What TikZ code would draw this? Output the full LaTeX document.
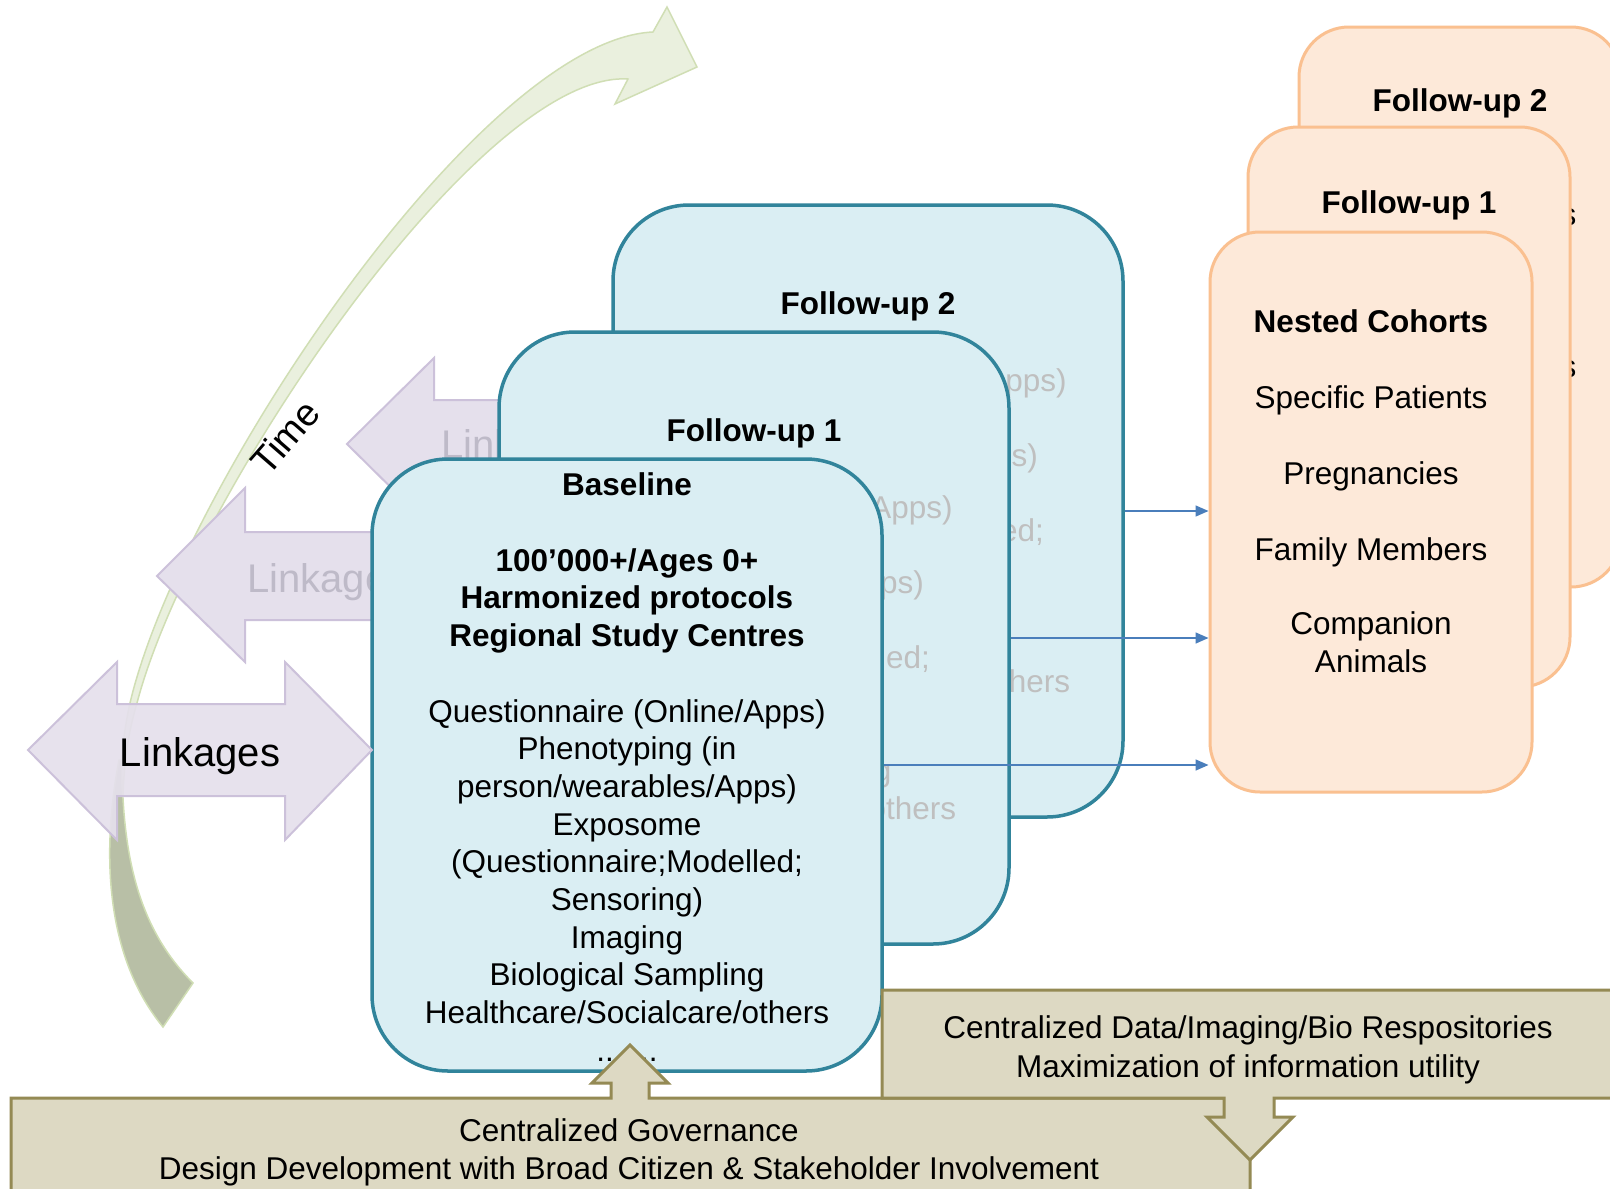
\documentclass[tikz,border=0pt]{standalone}
\usepackage{fontspec}
\setmainfont{Liberation Sans}
\usetikzlibrary{arrows.meta}
\definecolor{bluefill}{RGB}{218,238,243}
\definecolor{bluedraw}{RGB}{49,132,155}
\definecolor{orfill}{RGB}{253,233,217}
\definecolor{ordraw}{RGB}{250,192,144}
\definecolor{lavfill}{RGB}{229,224,236}
\definecolor{lavdraw}{RGB}{204,193,218}
\definecolor{tanfill}{RGB}{221,217,195}
\definecolor{tandraw}{RGB}{148,138,84}
\definecolor{arrblue}{RGB}{74,126,187}
\definecolor{timelight}{RGB}{234,240,222}
\definecolor{timeedge}{RGB}{208,222,180}
\definecolor{timedark}{RGB}{184,191,166}
\definecolor{ghost}{RGB}{191,191,191}
\definecolor{lavtext}{RGB}{190,186,200}
\begin{document}
\begin{tikzpicture}[x=1pt,y=-1pt,
  txt/.style={font=\fontsize{31.5}{37.7}\selectfont, inner sep=0pt, anchor=base},
  btxt/.style={font=\fontsize{31.5}{37.7}\selectfont\bfseries, inner sep=0pt, anchor=base},
  ghosttxt/.style={txt, text=ghost},
  linktxt/.style={font=\fontsize{40}{48}\selectfont, inner sep=0pt},
  bluebox/.style={draw=bluedraw, fill=bluefill, line width=3.5pt, rounded corners=76pt,
    minimum width=510pt, minimum height=612pt, inner sep=0pt},
  orbox/.style={draw=ordraw, fill=orfill, line width=3pt, rounded corners=50pt,
    minimum width=322pt, minimum height=560pt, inner sep=0pt},
  linkarrow/.style={fill=lavfill, draw=lavdraw, line width=2pt, line join=miter},
  tanshape/.style={fill=tanfill, draw=tandraw, line width=3pt, line join=miter},
  conn/.style={draw=arrblue, line width=1.5pt, -{Triangle[length=13pt,width=11pt]}}
]
\useasboundingbox (0,0) rectangle (1610,1189);
\clip (0,0) rectangle (1610,1189);
\fill[white] (0,0) rectangle (1610,1189);

% ---------- time arrow ----------
\filldraw[fill=timedark, draw=timeedge, line width=1.5pt]
  (119,760) .. controls (100,860) and (108,960) .. (163,1027)
  -- (193,983) .. controls (140,930) and (122,860) .. (122,760) -- cycle;
\filldraw[fill=timelight, draw=timeedge, line width=1.5pt, line join=miter]
  (653,32) -- (667,7) -- (697,67) -- (615,104) -- (628,79)
  .. controls (480,70) and (190,500) .. (137,703)
  .. controls (126,740) and (124,770) .. (123,795)
  .. controls (120,770) and (122,740) .. (130,703)
  .. controls (180,490) and (480,40) .. (653,32) -- cycle;
\node[font=\fontsize{38}{44}\selectfont, rotate=49, inner sep=0pt] (time) at (285,437) {Time};

% ---------- back linkage arrows ----------
\filldraw[linkarrow] (347,444) -- (434,358) -- (434,400) -- (580,400) -- (580,488) -- (434,488) -- (434,530) -- cycle;
\node[linktxt, text=lavtext, anchor=base west] (lk3) at (441,458) {Linkages};
\filldraw[linkarrow] (157,576) -- (245,488) -- (245,532) -- (460,532) -- (460,620) -- (245,620) -- (245,662) -- cycle;
\node[linktxt, text=lavtext, anchor=base west] (lk2) at (247,592) {Linkages};

% ---------- blue boxes ----------
\node[bluebox] (fu2) at (868,511) {};
\node[btxt] (fu2h) at (868,314) {Follow-up 2};
\foreach \t [count=\i from 0] in {{Questionnaire (Online/Apps)},{Phenotyping (in},{person/wearables/Apps)},{Exposome},{(Questionnaire;Modelled;},{Sensoring)},{Imaging},{Biological Sampling},{Healthcare/Socialcare/others}}
  \node[ghosttxt] (gb\i) at (868,391+\i*37.7) {\t};

\node[bluebox] (fu1) at (754,638) {};
\node[btxt] (fu1h) at (754,441) {Follow-up 1};
\foreach \t [count=\i from 0] in {{Questionnaire (Online/Apps)},{Phenotyping (in},{person/wearables/Apps)},{Exposome},{(Questionnaire;Modelled;},{Sensoring)},{Imaging},{Biological Sampling},{Healthcare/Socialcare/others}}
  \node[ghosttxt] (ga\i) at (754,518+\i*37.7) {\t};

\node[bluebox] (bl) at (627,765) {};
\node[btxt] (blh) at (627,495) {Baseline};
\node[btxt] (bl1) at (627,571) {100’000+/Ages 0+};
\node[btxt] (bl2) at (627,608.5) {Harmonized protocols};
\node[btxt] (bl3) at (627,646) {Regional Study Centres};
\foreach \t [count=\i from 0] in {{Questionnaire (Online/Apps)},{Phenotyping (in},{person/wearables/Apps)},{Exposome},{(Questionnaire;Modelled;},{Sensoring)},{Imaging},{Biological Sampling},{Healthcare/Socialcare/others}}
  \node[txt] (bt\i) at (627,722+\i*37.7) {\t};
\node[txt] (btdots) at (627,1061) {.......};

% ---------- front linkage arrow ----------
\filldraw[linkarrow, fill opacity=0.92] (28,750) -- (117,662) -- (117,704) -- (285,704) -- (285,662) -- (372,750) -- (285,840) -- (285,796) -- (117,796) -- (117,840) -- cycle;
\node[linktxt, anchor=base] (lk1) at (200,766) {Linkages};

% ---------- orange boxes ----------
\node[orbox] (ofu2) at (1460,307) {};
\node[btxt] (ofu2h) at (1460,111) {Follow-up 2};
\node[txt] (ofu2a) at (1460,225) {Specific Patients};
\node[txt] (ofu2b) at (1460,377) {Family Members};
\node[orbox] (ofu1) at (1409,407) {};
\node[btxt] (ofu1h) at (1409,213) {Follow-up 1};
\node[orbox] (nc) at (1371,512) {};
\node[btxt] (nch) at (1371,332) {Nested Cohorts};
\node[txt] (nc1) at (1371,408) {Specific Patients};
\node[txt] (nc2) at (1371,484) {Pregnancies};
\node[txt] (nc3) at (1371,560) {Family Members};
\node[txt] (nc4) at (1371,634) {Companion};
\node[txt] (nc5) at (1371,672) {Animals};

% ---------- connectors ----------
\draw[conn] (fu2.east) -- (fu2.east -| nc.west);
\draw[conn] (fu1.east) -- (fu1.east -| nc.west);
\draw[conn] (bl.east) -- (bl.east -| nc.west);

% ---------- governance / data ----------
\filldraw[tanshape] (11,1260) -- (11,1098) -- (611,1098) -- (611,1083) -- (592,1083) -- (630,1045) -- (668,1083) -- (649,1083) -- (649,1098) -- (1250,1098) -- (1250,1260) -- cycle;
\node[txt] (gov1) at (629,1141) {Centralized Governance};
\node[txt] (gov2) at (629,1179) {Design Development with Broad Citizen \& Stakeholder Involvement};
\filldraw[tanshape] (882,990) -- (1660,990) -- (1660,1098) -- (1274,1098) -- (1274,1117) -- (1293,1117) -- (1250,1160) -- (1207,1117) -- (1224,1117) -- (1224,1098) -- (882,1098) -- cycle;
\node[txt] (dat1) at (1248,1038) {Centralized Data/Imaging/Bio Respositories};
\node[txt] (dat2) at (1248,1077) {Maximization of information utility};
\end{tikzpicture}
\end{document}
